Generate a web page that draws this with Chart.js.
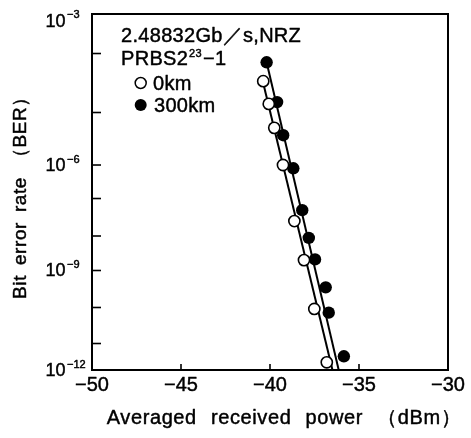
<!DOCTYPE html>
<html>
<head>
<meta charset="utf-8">
<script src="https://cdn.jsdelivr.net/npm/chart.js@4.4.0/dist/chart.umd.min.js"></script>
<style>
html,body{margin:0;padding:0;background:#fff;}
#wrap{width:471px;height:438px;position:relative;}
</style>
</head>
<body>
<div id="wrap"><canvas id="c"></canvas></div>
<script>
// ---- data ----
const seriesNames = ['0km', '300km'];
const power0km   = [-40.38, -40.07, -39.76, -39.27, -38.63, -38.09, -37.51, -36.81];
const ber0km     = [3.4e-5, 1.4e-5, 5.1e-6, 1.0e-6, 2.5e-8, 2.0e-9, 9.1e-11, 1.95e-12];
const power300km = [-40.19, -39.60, -39.26, -38.69, -38.19, -37.82, -37.47, -36.87, -36.70, -35.85];
const ber300km   = [7.1e-5, 1.5e-5, 3.7e-6, 8.0e-7, 4.9e-8, 8.8e-9, 2.1e-9, 3.5e-10, 7.2e-11, 3.3e-12];
const fitPower0km   = [-40.45, -36.49];
const fitBer0km     = [3.85e-5, 1e-12];
const fitPower300km = [-40.19, -36.14];
const fitBer300km   = [7.1e-5, 1e-12];
const xTickValues = [-50, -45, -40, -35, -30];
const xTickLabels = ['−50', '−45', '−40', '−35', '−30'];
const yMajorTicks = [1e-3, 1e-6, 1e-9, 1e-12];
const yMajorExp   = ['−3', '−6', '−9', '−12'];
const yMinorTicks = [1e-4, 1e-5, 1e-7, 1e-8, 1e-10, 1e-11];
const titleLine1 = '2.48832Gb／s,NRZ';
const titleLine2 = ['PRBS2', '23', '−1'];
const xTitle = 'Averaged received power （dBm）';
const yTitle = 'Bit error rate （BER）';

// ---- custom BER (probability-paper) scale ----
class BerScale extends Chart.Scale {
  static id = 'ber';
  static defaults = {};
  determineDataLimits() { this.min = this.options.min; this.max = this.options.max; }
  buildTicks() { return (this.options.tickValues || []).map(v => ({ value: v })); }
  getLabelForValue(v) { return String(v); }
  _depth(v) {
    const E = this.options.calibration.exponents, D = this.options.calibration.depth;
    const e = -Math.log10(v);
    let i = 0;
    while (i < E.length - 2 && e > E[i + 1]) i++;
    const t = (e - E[i]) / (E[i + 1] - E[i]);
    return D[i] + t * (D[i + 1] - D[i]);
  }
  getPixelForValue(v) { return this.getPixelForDecimal(1 - this._depth(v)); }
  getValueForPixel(p) {
    const E = this.options.calibration.exponents, D = this.options.calibration.depth;
    const d = 1 - this.getDecimalForPixel(p);
    let i = 0;
    while (i < D.length - 2 && d > D[i + 1]) i++;
    const t = (d - D[i]) / (D[i + 1] - D[i]);
    return Math.pow(10, -(E[i] + t * (E[i + 1] - E[i])));
  }
}
Chart.register(BerScale);

const FONT = '"Liberation Sans", Arial, Helvetica, sans-serif';
const toXY = (xs, ys) => xs.map((x, i) => ({ x: x, y: ys[i] }));

function txt(ctx, s, x, y) {
  ctx.fillText(s, x, y);
  ctx.strokeText(s, x, y);
}

const decor = {
  id: 'decor',
  afterDatasetsDraw(chart) {
    const ctx = chart.ctx, a = chart.chartArea;
    const xs = chart.scales.x, ys = chart.scales.y;
    ctx.save();
    ctx.strokeStyle = '#000';
    ctx.fillStyle = '#000';
    // frame
    ctx.lineWidth = 2;
    ctx.strokeRect(a.left, a.top, a.right - a.left, a.bottom - a.top);
    // y ticks (inside)
    ctx.lineWidth = 1.6;
    yMajorTicks.concat(yMinorTicks).forEach(v => {
      const y = ys.getPixelForValue(v);
      if (y <= a.top + 1 || y >= a.bottom - 1) return;
      ctx.beginPath(); ctx.moveTo(a.left, y); ctx.lineTo(a.left + 9, y); ctx.stroke();
    });
    // x ticks (inside)
    xTickValues.forEach(v => {
      const x = xs.getPixelForValue(v);
      if (x <= a.left + 1 || x >= a.right - 1) return;
      ctx.beginPath(); ctx.moveTo(x, a.bottom); ctx.lineTo(x, a.bottom - 6); ctx.stroke();
    });
    ctx.lineWidth = 0.45;
    ctx.lineJoin = 'round';
    // x tick labels
    ctx.font = '20px ' + FONT;
    ctx.textAlign = 'center';
    ctx.textBaseline = 'alphabetic';
    xTickValues.forEach((v, i) => {
      txt(ctx, xTickLabels[i], xs.getPixelForValue(v), a.bottom + 21);
    });
    // y tick labels 10^n
    yMajorTicks.forEach((v, i) => {
      const y = ys.getPixelForValue(v);
      const base = Math.max(y + 6, a.top + 12.5);
      ctx.font = '18px ' + FONT;
      ctx.textAlign = 'right';
      txt(ctx, '10', 65.5, base);
      ctx.font = '11px ' + FONT;
      ctx.textAlign = 'left';
      txt(ctx, yMajorExp[i], 67, base - 8.5);
    });
    // axis titles
    ctx.font = '20px ' + FONT;
    ctx.textAlign = 'center';
    try { ctx.letterSpacing = '0.6px'; ctx.wordSpacing = '8px'; } catch (e) {}
    txt(ctx, xTitle, (a.left + a.right) / 2 + 14, a.bottom + 54);
    ctx.save();
    ctx.translate(26, (a.top + a.bottom) / 2 + 1);
    ctx.rotate(-Math.PI / 2);
    ctx.font = '19px ' + FONT;
    try { ctx.wordSpacing = '4px'; } catch (e) {}
    txt(ctx, yTitle, 0, 0);
    ctx.restore();
    try { ctx.letterSpacing = '0.3px'; ctx.wordSpacing = '0px'; } catch (e) {}
    // legend / annotation
    ctx.textAlign = 'left';
    ctx.font = '20px ' + FONT;
    txt(ctx, titleLine1, 121, 42);
    let x = 121;
    txt(ctx, titleLine2[0], x, 65);
    x += ctx.measureText(titleLine2[0]).width + 1;
    ctx.font = '11px ' + FONT;
    txt(ctx, titleLine2[1], x, 57);
    x += ctx.measureText(titleLine2[1]).width + 1;
    ctx.font = '20px ' + FONT;
    txt(ctx, titleLine2[2], x, 65);
    // legend markers
    ctx.lineWidth = 1.5;
    ctx.beginPath(); ctx.arc(140.7, 83, 5.5, 0, Math.PI * 2);
    ctx.fillStyle = '#fff'; ctx.fill(); ctx.stroke();
    ctx.fillStyle = '#000';
    ctx.beginPath(); ctx.arc(140.7, 105, 6, 0, Math.PI * 2); ctx.fill();
    ctx.lineWidth = 0.45;
    txt(ctx, seriesNames[0], 153, 89.5);
    txt(ctx, seriesNames[1], 154, 112);
    ctx.restore();
  }
};

new Chart(document.getElementById('c'), {
  type: 'scatter',
  data: {
    datasets: [
      { label: seriesNames[0], data: toXY(power0km, ber0km), showLine: false, order: 0,
        pointRadius: 5.6, pointBorderWidth: 1.6, pointBackgroundColor: '#fff', pointBorderColor: '#000' },
      { label: seriesNames[1], data: toXY(power300km, ber300km), showLine: false, order: 0,
        pointRadius: 6.2, pointBorderWidth: 0, pointBackgroundColor: '#000', pointBorderColor: '#000' },
      { label: seriesNames[0] + ' fit', data: toXY(fitPower0km, fitBer0km), showLine: true, order: 1,
        pointRadius: 0, borderColor: '#000', borderWidth: 2 },
      { label: seriesNames[1] + ' fit', data: toXY(fitPower300km, fitBer300km), showLine: true, order: 1,
        pointRadius: 0, borderColor: '#000', borderWidth: 2 }
    ]
  },
  options: {
    responsive: true,
    maintainAspectRatio: false,
    animation: false,
    events: [],
    layout: { padding: { left: 92, top: 14, right: 23, bottom: 68 } },
    plugins: { legend: { display: false }, tooltip: { enabled: false } },
    scales: {
      x: { type: 'linear', min: -50, max: -30, display: false },
      y: { type: 'ber', min: 1e-12, max: 1e-3, display: false,
           tickValues: yMajorTicks.concat(yMinorTicks),
           calibration: { exponents: [3, 4, 5, 6, 7, 8, 9, 10, 11, 12],
                          depth: [0, 0.111, 0.2767, 0.4242, 0.5183, 0.6236, 0.7205, 0.8244, 0.9256, 1] } }
    }
  },
  plugins: [decor]
});
</script>
</body>
</html>
